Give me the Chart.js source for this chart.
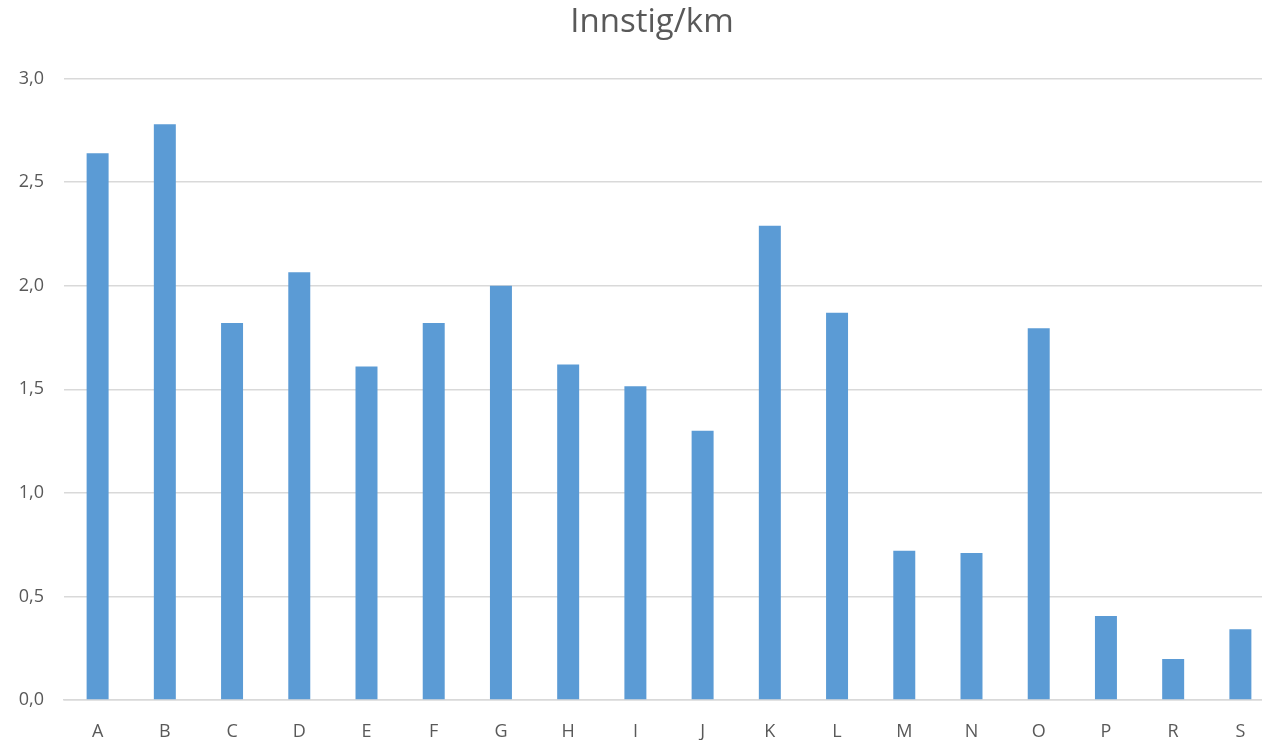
<!DOCTYPE html>
<html>
<head>
<meta charset="utf-8">
<script src="https://cdn.jsdelivr.net/npm/chart.js@4"></script>
<style>
    html, body { margin: 0; padding: 0; background: #fff; overflow: hidden; }
    #wrap { width: 1262px; height: 742px; overflow: hidden; }
    canvas { display: block; }
</style>
</head>
<body>
<div id="wrap"><canvas id="innstigChart" width="1304" height="742"></canvas></div>
<script>
const categories = ['A', 'B', 'C', 'D', 'E', 'F', 'G', 'H', 'I', 'J', 'K', 'L', 'M', 'N', 'O', 'P', 'R', 'S'];
const innstigPerKm = [2.64, 2.78, 1.82, 2.065, 1.61, 1.82, 2.0, 1.62, 1.515, 1.30, 2.29, 1.87, 0.72, 0.71, 1.795, 0.405, 0.198, 0.342];
const yTicks = [0, 0.5, 1.0, 1.5, 2.0, 2.5, 3.0];

// The plot runs past the right edge of the picture, so shift the
// title box to keep it centred on the whole original chart
const centreTitle = {
    id: 'centreTitle',
    afterLayout: function (chart) {
        if (chart.titleBlock) chart.titleBlock.left = 30;
    }
};

document.addEventListener('DOMContentLoaded', function () {
    const ctx = document.getElementById('innstigChart').getContext('2d');
    new Chart(ctx, {
        type: 'bar',
        data: {
            labels: categories,
            datasets: [
                {
                    label: 'Innstig/km',
                    data: innstigPerKm,
                    backgroundColor: '#5b9bd5',
                    barPercentage: 0.327,
                    categoryPercentage: 1.0
                }
            ]
        },
        options: {
            responsive: false,
            animation: false,
            devicePixelRatio: 1,
            layout: {
                padding: { left: 0, right: 30, top: 0, bottom: 2 }
            },
            scales: {
                x: {
                    afterFit: function (scale) { scale.height = 40; },
                    grid: { display: false },
                    border: { color: '#d9d9d9', width: 1.5 },
                    ticks: {
                        padding: 13,
                        color: '#595959',
                        font: { family: 'Open Sans', size: 18 }
                    }
                },
                y: {
                    min: 0,
                    max: 3,
                    afterFit: function (scale) { scale.width = 64; },
                    afterBuildTicks: function (scale) {
                        scale.ticks = yTicks.map(v => ({ value: v }));
                    },
                    grid: { color: '#d9d9d9', lineWidth: 1.5, drawTicks: false },
                    border: { display: false },
                    ticks: {
                        padding: 20,
                        color: '#595959',
                        font: { family: 'Open Sans', size: 18 },
                        callback: v => v.toFixed(1).replace('.', ',')
                    }
                }
            },
            plugins: {
                legend: { display: false },
                tooltip: { enabled: false },
                title: {
                    display: true,
                    text: 'Innstig/km',
                    color: '#595959',
                    font: { family: 'Open Sans', size: 33, weight: 'normal' },
                    padding: { top: 3, bottom: 36 }
                }
            }
        },
        plugins: [centreTitle]
    });
});
</script>
</body>
</html>
